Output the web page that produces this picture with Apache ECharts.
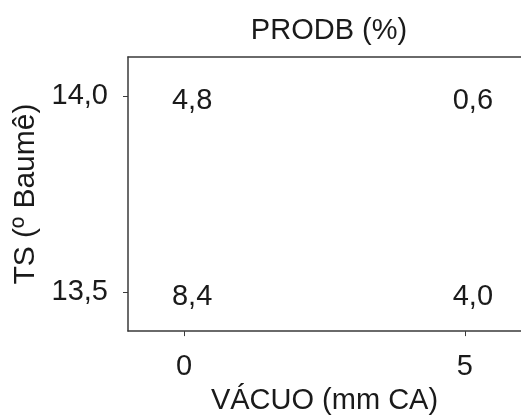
<!DOCTYPE html>
<html>
<head>
<meta charset="utf-8">
<script src="https://cdn.jsdelivr.net/npm/echarts@6/dist/echarts.min.js"></script>
<style>
  html, body { margin: 0; padding: 0; background: #fff; }
  #chart { width: 521px; height: 420px; }
</style>
</head>
<body>
<div id="chart"></div>
<script>
// dados
var vacuo = [0, 5]
var ts = [14.0, 13.5]
// PRODB (%) por linha de TS, colunas de VÁCUO
var prodb = [
  [4.8, 0.6],
  [8.4, 4.0],
]

var font = 'Liberation Sans, Arial, sans-serif'
var fs = 29
var ink = '#1a1a1a'
var lineColor = '#3a3a3a'

function virgula(v, casas) {
  return v.toFixed(casas).replace('.', ',')
}

var pontos = []
ts.forEach(function (y, i) {
  vacuo.forEach(function (x, j) {
    pontos.push([x, y, prodb[i][j]])
  })
})

var myChart = echarts.init(document.getElementById('chart'))

var option = {
  backgroundColor: '#fff',
  animation: false,
  title: {
    text: 'PRODB (%)',
    left: 324,
    top: 11,
    textAlign: 'center',
    textStyle: { fontFamily: font, fontSize: fs, fontWeight: 'normal', color: ink },
  },
  grid: { left: 128, top: 57, width: 399, height: 280 },
  xAxis: [
    {
      type: 'value',
      min: -1,
      max: 6,
      name: 'VÁCUO (mm CA)',
      nameLocation: 'middle',
      nameGap: 47,
      nameTextStyle: { fontFamily: font, fontSize: fs, color: ink },
      axisLine: { show: true, onZero: false, lineStyle: { color: lineColor, width: 1.5 } },
      axisTick: { show: true, customValues: vacuo, length: 5, lineStyle: { color: lineColor } },
      axisLabel: {
        customValues: vacuo,
        margin: 21,
        fontFamily: font,
        fontSize: fs,
        color: ink,
      },
      splitLine: { show: false },
    },
    {
      type: 'value',
      position: 'top',
      min: -1,
      max: 6,
      axisLine: { show: true, onZero: false, lineStyle: { color: lineColor, width: 1.5 } },
      axisTick: { show: false },
      axisLabel: { show: false },
      splitLine: { show: false },
    },
  ],
  yAxis: {
    type: 'value',
    min: 13.4,
    max: 14.1,
    name: 'TS (º Baumê)',
    nameLocation: 'middle',
    nameGap: 81,
    nameTextStyle: { fontFamily: font, fontSize: 30, color: ink },
    axisLine: { show: true, onZero: false, lineStyle: { color: lineColor, width: 1.5 } },
    axisTick: { show: true, customValues: ts, length: 5, lineStyle: { color: lineColor } },
    axisLabel: {
      customValues: ts,
      margin: 20,
      fontFamily: font,
      fontSize: fs,
      color: ink,
      formatter: function (v) { return virgula(v, 1) },
    },
    splitLine: { show: false },
  },
  series: [
    {
      type: 'scatter',
      symbolSize: 0,
      itemStyle: { opacity: 1 },
      data: pontos,
      label: {
        show: true,
        position: 'inside',
        offset: [8, 5],
        fontFamily: font,
        fontSize: fs,
        color: ink,
        formatter: function (p) { return virgula(p.value[2], 1) },
      },
    },
  ],
}

myChart.setOption(option)
</script>
</body>
</html>
